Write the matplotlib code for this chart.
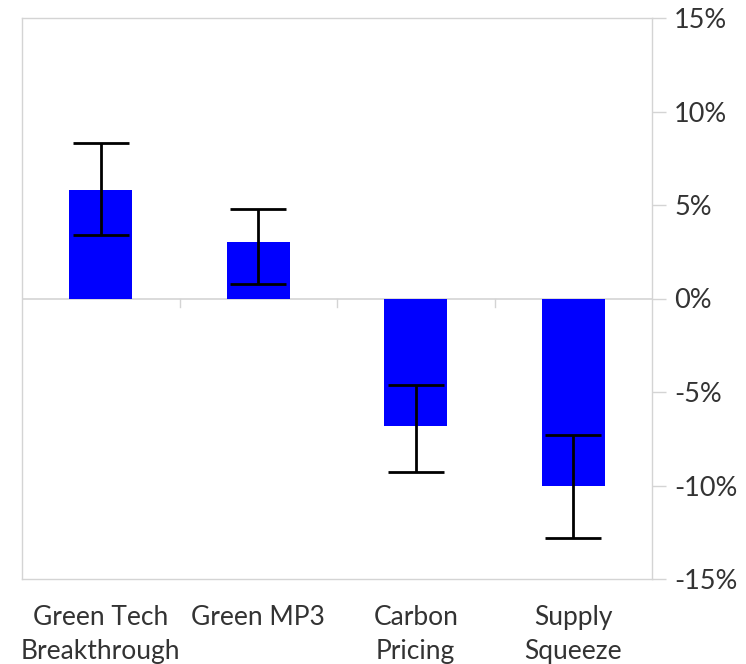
import numpy as np
import matplotlib.pyplot as plt
from matplotlib.ticker import FuncFormatter

# données
categories = ['Green Tech\nBreakthrough', 'Green MP3', 'Carbon\nPricing', 'Supply\nSqueeze']
values = [5.8, 3.0, -6.8, -10.0]
err_high = [8.3, 4.8, -4.6, -7.3]
err_low = [3.4, 0.8, -9.3, -12.8]
yticks = [-15, -10, -5, 0, 5, 10, 15]

plt.rcParams['font.family'] = ['Lato', 'DejaVu Sans']
grey = '#d4d4d4'
text_col = '#333333'

fig = plt.figure(figsize=(7.46, 6.64), dpi=100)
ax = fig.add_axes([22/746, 1 - 579/664, 630/746, 561/664])

x = np.arange(len(categories))
vals = np.array(values)
lo = vals - np.array(err_low)
hi = np.array(err_high) - vals
ax.bar(x, vals, width=0.4, color='#0000ff', zorder=2)
ax.errorbar(x, vals, yerr=[lo, hi], fmt='none', ecolor='black',
            elinewidth=2, capsize=20, capthick=2, zorder=3)

ax.set_xlim(-0.5, len(categories) - 0.5)
ax.set_ylim(-15, 15)
ax.set_yticks(yticks)
ax.yaxis.set_major_formatter(FuncFormatter(lambda v, p: '%d%%' % v))
ax.yaxis.tick_right()
ax.tick_params(axis='y', direction='out', length=10, width=1, color=grey,
               labelsize=19.5, labelcolor=text_col, pad=6)

# axe horizontal à 0 avec graduations entre catégories
ax.axhline(0, color=grey, lw=1.2, zorder=1)
for b in np.arange(0.5, len(categories) - 0.5):
    ax.plot([b, b], [0, -0.45], color=grey, lw=1, zorder=1)

ax.set_xticks(x)
ax.set_xticklabels(categories, fontsize=19, color=text_col, linespacing=1.45)
ax.tick_params(axis='x', length=0, pad=19)

for s in ax.spines.values():
    s.set_color(grey)
    s.set_linewidth(1)

fig.savefig('out.png', dpi=100)
